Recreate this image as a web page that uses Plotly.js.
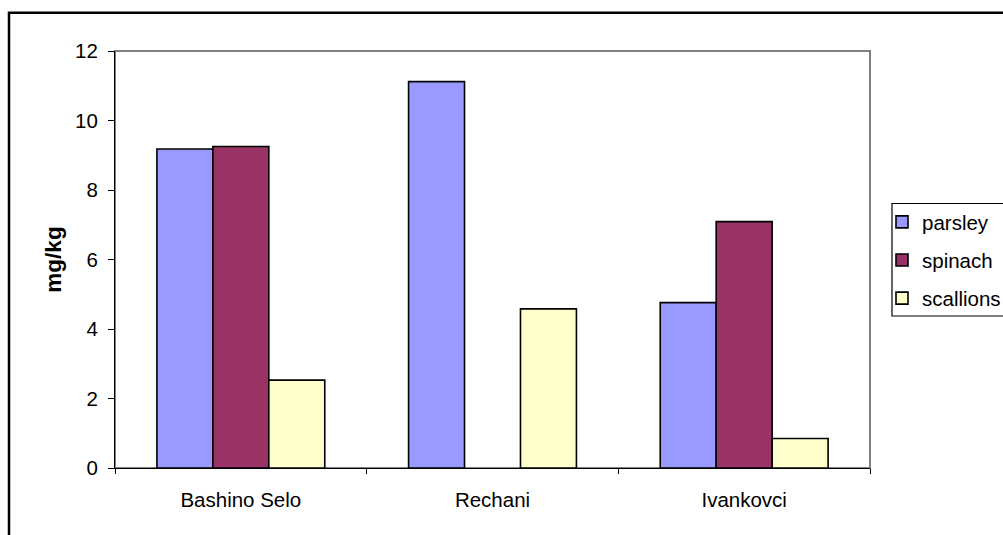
<!DOCTYPE html>
<html>
<head>
<meta charset="utf-8">
<script src="https://cdn.plot.ly/plotly-3.0.1.min.js"></script>
<style>
  html, body { margin: 0; padding: 0; background: #ffffff; overflow: hidden; }
  #chart { width: 1003px; height: 535px; }
</style>
</head>
<body>
<div id="chart"></div>
<script>
// Sampling sites and measured concentrations (mg/kg) per vegetable
const sites = ["Bashino Selo", "Rechani", "Ivankovci"];
const parsley = [9.18, 11.12, 4.76];
const spinach = [9.25, null, 7.09];
const scallions = [2.53, 4.58, 0.85];

const seriesNames = ["parsley", "spinach", "scallions"];
const seriesColors = ["#9999FF", "#993366", "#FFFFCC"];
const seriesValues = [parsley, spinach, scallions];

const FONT = "Arial, 'Liberation Sans', sans-serif";

// Plot-area geometry in pixels (used to place the frame and legend box)
const W = 1003, H = 535;
const M = { l: 115, r: 133, t: 51, b: 67 };
const pw = W - M.l - M.r, ph = H - M.t - M.b;
const px = v => (v - M.l) / pw;          // pixel x -> paper x
const py = v => (H - M.b - v) / ph;      // pixel y -> paper y

const traces = seriesValues.map((vals, i) => ({
  type: "bar",
  name: seriesNames[i],
  x: sites,
  y: vals,
  legendgroup: "g" + i,
  marker: { color: seriesColors[i], line: { color: "#000000", width: 1.6 } },
  hoverinfo: "x+y+name"
}));

const layout = {
  width: W,
  height: H,
  margin: { l: M.l, r: M.r, t: M.t, b: M.b, autoexpand: false },
  paper_bgcolor: "#ffffff",
  plot_bgcolor: "#ffffff",
  font: { family: FONT, size: 20, color: "#000000" },
  barmode: "group",
  bargap: 0.333,
  bargroupgap: 0,
  showlegend: true,
  legend: {
    x: px(882),
    y: py(202),
    xanchor: "left",
    yanchor: "top",
    bgcolor: "rgba(0,0,0,0)",
    borderwidth: 0,
    traceorder: "grouped",
    tracegroupgap: 8.5,
    font: { family: FONT, size: 20.5, color: "#000000" }
  },
  xaxis: {
    type: "category",
    range: [-0.5, 2.5],
    showline: true,
    linecolor: "#000000",
    linewidth: 1,
    ticks: "outside",
    tickson: "boundaries",
    ticklen: 5,
    tickcolor: "#000000",
    tickwidth: 1,
    showgrid: false,
    zeroline: false,
    ticklabelstandoff: 13,
    tickfont: { family: FONT, size: 20.5, color: "#000000" }
  },
  yaxis: {
    range: [0, 12],
    dtick: 2,
    showline: true,
    linecolor: "#000000",
    linewidth: 1,
    ticks: "outside",
    ticklen: 6,
    tickcolor: "#000000",
    tickwidth: 1,
    showgrid: false,
    zeroline: false,
    ticklabelstandoff: 6,
    tickfont: { family: FONT, size: 20.5, color: "#000000" },
    title: {
      text: "<b>mg/kg</b>",
      standoff: 7,
      font: { family: FONT, size: 22.5, color: "#000000" }
    }
  },
  shapes: [
    // plot-area border (grey)
    { type: "rect", xref: "paper", yref: "paper", x0: 0, x1: 1, y0: 0, y1: 1,
      line: { color: "#808080", width: 2 }, layer: "below" },
    // outer chart frame
    { type: "rect", xref: "paper", yref: "paper",
      x0: px(9), x1: 1.4, y0: -0.4, y1: py(12.7),
      line: { color: "#000000", width: 2.5 }, layer: "above" },
    // legend box
    { type: "rect", xref: "paper", yref: "paper",
      x0: px(892), x1: 1.4, y0: py(316), y1: py(203.5),
      line: { color: "#000000", width: 1.2 }, layer: "above" }
  ]
};

Plotly.newPlot("chart", traces, layout, { displayModeBar: false, staticPlot: true });
</script>
</body>
</html>
